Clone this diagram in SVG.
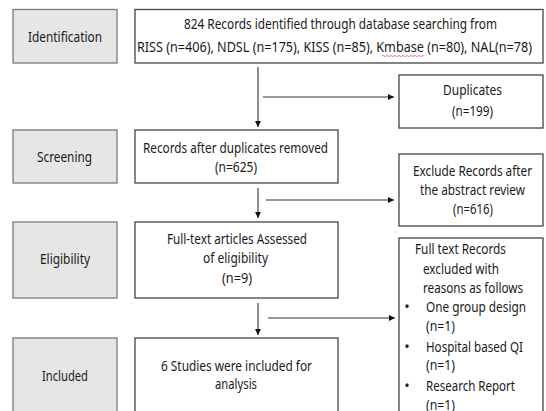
<svg xmlns="http://www.w3.org/2000/svg" width="546" height="411" viewBox="0 0 546 411">
<defs>
<marker id="ah" markerWidth="8" markerHeight="8" refX="6" refY="3" orient="auto" markerUnits="userSpaceOnUse">
<path d="M0,0 L6,3 L0,6 Z" fill="#111"/>
</marker>
<style>
.stage{fill:#e6e6e6;stroke:#7a7a7a;stroke-width:1.3}
.box{fill:#fff;stroke:#444;stroke-width:1.3}
text{font-family:"Noto Sans","DejaVu Sans",sans-serif;font-size:14.5px;fill:#1a1a1a}
.c{text-anchor:middle}
.ln{stroke:#333;stroke-width:1.1;fill:none}
</style>
</defs>
<rect width="546" height="411" fill="#fff"/>
<g id="stage-identification"><rect class="stage" x="13" y="9.5" width="104" height="53.5"/><text class="c" x="65" y="42" textLength="74" lengthAdjust="spacingAndGlyphs">Identification</text></g>
<g id="stage-screening"><rect class="stage" x="13" y="130" width="104" height="53"/><text class="c" x="64.5" y="162" textLength="55" lengthAdjust="spacingAndGlyphs">Screening</text></g>
<g id="stage-eligibility"><rect class="stage" x="13" y="222" width="104" height="76"/><text class="c" x="65" y="264" textLength="50" lengthAdjust="spacingAndGlyphs">Eligibility</text></g>
<g id="stage-included"><rect class="stage" x="13" y="338" width="104" height="100"/><text class="c" x="65" y="381" textLength="46" lengthAdjust="spacingAndGlyphs">Included</text></g>

<g id="identified"><rect class="box" x="135" y="9.5" width="408" height="53.5"/>
<text class="c" x="340.5" y="29" textLength="313" lengthAdjust="spacingAndGlyphs">824 Records identified through database searching from</text>
<text class="c" x="334.5" y="52" textLength="395" lengthAdjust="spacingAndGlyphs">RISS (n=406), NDSL (n=175), KISS (n=85), Kmbase (n=80), NAL(n=78)</text>
<path d="M382,56 q1,-1.2 2,0 t2,0 t2,0 t2,0 t2,0 t2,0 t2,0 t2,0 t2,0 t2,0 t2,0 t2,0 t2,0 t2,0 t2,0 t2,0 t2,0 t2,0 t2,0 t2,0 t2,0" stroke="#e06060" stroke-width="0.8" fill="none"/>
</g>
<g id="duplicates"><rect class="box" x="399" y="75" width="144" height="53"/>
<text class="c" x="472.5" y="95" textLength="59" lengthAdjust="spacingAndGlyphs">Duplicates</text><text class="c" x="472.5" y="116" textLength="41" lengthAdjust="spacingAndGlyphs">(n=199)</text></g>
<g id="after-dup"><rect class="box" x="135" y="130" width="203" height="53"/>
<text class="c" x="235.5" y="153" textLength="185" lengthAdjust="spacingAndGlyphs">Records after duplicates removed</text><text class="c" x="236" y="172" textLength="42" lengthAdjust="spacingAndGlyphs">(n=625)</text></g>
<g id="exclude-abstract"><rect class="box" x="399" y="154" width="144" height="72"/>
<text class="c" x="472.5" y="176" textLength="119" lengthAdjust="spacingAndGlyphs">Exclude Records after</text><text class="c" x="472.5" y="195" textLength="105" lengthAdjust="spacingAndGlyphs">the abstract review</text><text class="c" x="473" y="214" textLength="40" lengthAdjust="spacingAndGlyphs">(n=616)</text></g>
<g id="fulltext"><rect class="box" x="135" y="222" width="203" height="76"/>
<text class="c" x="237" y="244" textLength="140" lengthAdjust="spacingAndGlyphs">Full-text articles Assessed</text><text class="c" x="235.5" y="263" textLength="65" lengthAdjust="spacingAndGlyphs">of eligibility</text><text class="c" x="237" y="283" textLength="30" lengthAdjust="spacingAndGlyphs">(n=9)</text></g>
<g id="fulltext-excluded"><rect class="box" x="399" y="238" width="144" height="200"/>
<text x="415" y="254" textLength="91" lengthAdjust="spacingAndGlyphs">Full text Records</text>
<text x="423" y="274" textLength="76" lengthAdjust="spacingAndGlyphs">excluded with</text>
<text x="423" y="293" textLength="100" lengthAdjust="spacingAndGlyphs">reasons as follows</text>
<text class="c" x="407" y="312">•</text><text x="426" y="312" textLength="100" lengthAdjust="spacingAndGlyphs">One group design</text>
<text x="426" y="331" textLength="29" lengthAdjust="spacingAndGlyphs">(n=1)</text>
<text class="c" x="407" y="352">•</text><text x="426" y="352" textLength="97" lengthAdjust="spacingAndGlyphs">Hospital based QI</text>
<text x="426" y="370" textLength="29" lengthAdjust="spacingAndGlyphs">(n=1)</text>
<text class="c" x="407" y="391">•</text><text x="426" y="391" textLength="89" lengthAdjust="spacingAndGlyphs">Research Report</text>
<text x="426" y="410" textLength="29" lengthAdjust="spacingAndGlyphs">(n=1)</text></g>
<g id="included"><rect class="box" x="135" y="338" width="203" height="100"/>
<text class="c" x="236.5" y="371" textLength="151" lengthAdjust="spacingAndGlyphs">6 Studies were included for</text><text class="c" x="236" y="389" textLength="42" lengthAdjust="spacingAndGlyphs">analysis</text></g>

<g id="connectors">
<line class="ln" x1="258" y1="67" x2="258" y2="127" marker-end="url(#ah)"/>
<line class="ln" x1="263" y1="97" x2="394" y2="97" marker-end="url(#ah)"/>
<line class="ln" x1="258" y1="188" x2="258" y2="218" marker-end="url(#ah)"/>
<line class="ln" x1="266" y1="200" x2="394" y2="200" marker-end="url(#ah)"/>
<line class="ln" x1="258" y1="303" x2="258" y2="335" marker-end="url(#ah)"/>
<line class="ln" x1="268" y1="318" x2="395" y2="318" marker-end="url(#ah)"/>
</g>
</svg>
